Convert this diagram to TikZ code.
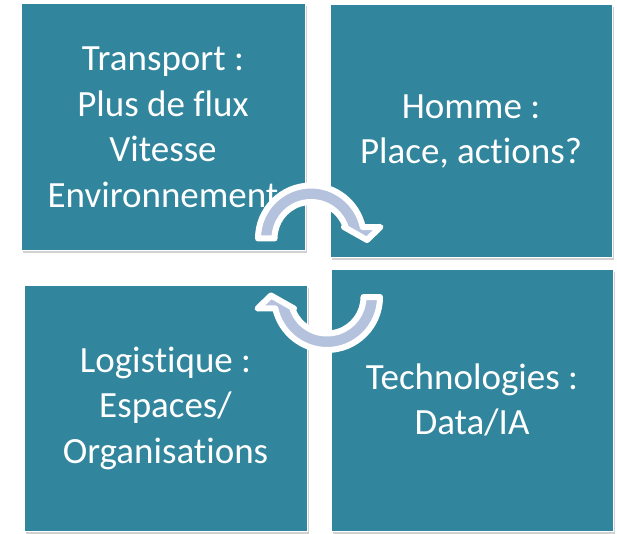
\documentclass[tikz,border=0pt]{standalone}
\usepackage{fontspec}
\setmainfont[Ligatures=NoCommon]{Carlito}
\usepackage{tikz}
\usetikzlibrary{shadows}

\definecolor{boxteal}{HTML}{31859C}
\definecolor{cycblue}{HTML}{B4C2DE}

\tikzset{
  quad/.style={fill=boxteal,draw=white,line width=1pt,inner sep=0pt,
    text=white,align=center,font=\fontsize{37}{45.5}\selectfont,
    drop shadow={shadow xshift=1.5pt,shadow yshift=-2.5pt,opacity=.3,fill=black!60}},
  cycarrow/.style={fill=cycblue,draw=white,line width=6pt,line join=round},
  % half-turn arrow round its own centre, head on the right
  pics/halfturn/.style={code={
    \path[cycarrow] (180:53) arc[start angle=180,end angle=12.5,radius=53]
      -- (69.5,11.5) -- (56,-1.5) -- (33,11.5) -- (18.4:36.5)
      arc[start angle=18.4,end angle=180,radius=36.5] -- cycle;
  }}
}

\begin{document}
\begin{tikzpicture}[x=1pt,y=1pt]
\useasboundingbox (0,0) rectangle (617,533);
% the four blocks
\node[quad,minimum width=284pt,minimum height=247pt] (transport) at (163,405.5)
  {Transport :\\Plus de flux\\Vitesse\\Environnement};
\node[quad,minimum width=282pt,minimum height=253pt] (homme) at (471,401.5)
  {Homme :\\Place, actions?};
\node[quad,minimum width=283pt,minimum height=246pt] (logistique) at (165.5,125)
  {Logistique :\\Espaces/\\Organisations};
\node[quad,minimum width=282pt,minimum height=262pt] (techno) at (472,133)
  {Technologies :\\Data/IA};
% cycle arrows in the middle
\coordinate (uppercyc) at (311,294.5);
\coordinate (lowercyc) at (327,236);
\pic at (uppercyc) {halfturn};
\pic[rotate=180] at (lowercyc) {halfturn};
\end{tikzpicture}
\end{document}
